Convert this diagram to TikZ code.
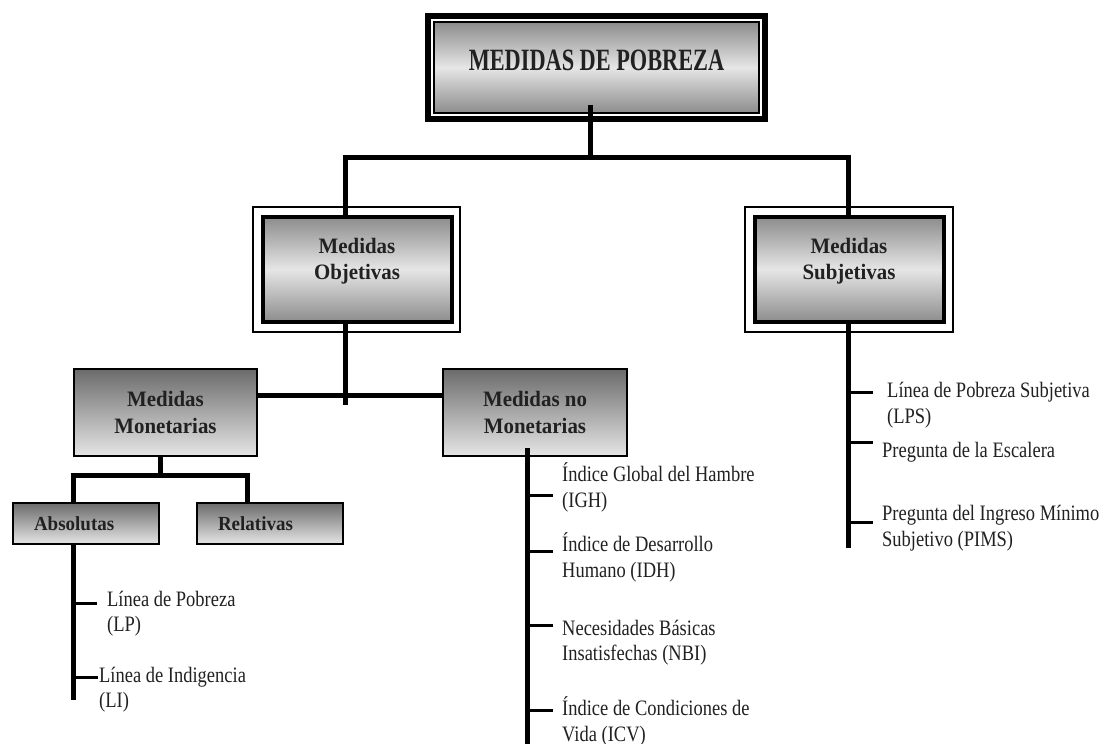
\documentclass[tikz,border=0pt]{standalone}
\usepackage{fontspec}
\setmainfont{Liberation Serif}
\newfontfamily\itemfont[FakeStretch=0.84]{Liberation Serif}
\newfontfamily\boxfont[FakeStretch=0.95]{Liberation Serif}
\newfontfamily\titlefont[FakeStretch=0.72]{Liberation Serif}
\usetikzlibrary{calc}
\definecolor{gdark}{gray}{0.42}
\definecolor{gmid}{gray}{0.55}
\definecolor{glight}{gray}{0.90}
\definecolor{txt}{gray}{0.13}
\tikzset{
  conn/.style={line width=5pt, black},
  tickline/.style={line width=3pt, black},
  titlebox/.style={draw, line width=1.5pt, top color=gmid, bottom color=gmid, middle color=glight,
    minimum width=325pt, minimum height=91pt, inner sep=0pt},
  mainbox/.style={draw, line width=4pt, top color=gmid, bottom color=gmid, middle color=glight,
    minimum width=189pt, minimum height=105pt, inner sep=0pt},
  subbox/.style={draw, line width=2pt, top color=gdark, bottom color=glight,
    inner sep=0pt, text=txt, align=center},
  boxtext/.style={text=txt, align=center, inner sep=0pt, font=\boxfont\bfseries\fontsize{22}{26}\selectfont},
  leaftext/.style={text=txt, align=left, anchor=west, inner sep=0pt, font=\itemfont\fontsize{22}{25.5}\selectfont}
}
\begin{document}
\begin{tikzpicture}[x=1pt,y=-1pt]
\useasboundingbox[fill=white] (0,0) rectangle (1108,744);

% boxes
\node[titlebox] (top) at (596.5,67.5) {};
\draw[line width=6pt] ([shift={(-5pt,5pt)}]top.north west) rectangle ([shift={(5pt,-5pt)}]top.south east);
\node[text=txt, inner sep=0pt, font=\titlefont\bfseries\fontsize{31}{36}\selectfont] (toptext) at (596.5,60.5) {MEDIDAS DE POBREZA};

\node[mainbox] (obj) at (357.5,269.5) {};
\draw[line width=1.5pt] ([shift={(-8pt,8pt)}]obj.north west) rectangle ([shift={(6pt,-8pt)}]obj.south east);
\node[boxtext] (objtext) at (357,261.5) {Medidas\\Objetivas};

\node[mainbox] (subj) at (849.5,269.5) {};
\draw[line width=1.5pt] ([shift={(-8pt,8pt)}]subj.north west) rectangle ([shift={(7pt,-8pt)}]subj.south east);
\node[boxtext] (subjtext) at (849,261.5) {Medidas\\Subjetivas};

\node[subbox, minimum width=183pt, minimum height=87pt, font=\boxfont\bfseries\fontsize{22}{27}\selectfont] (mon) at (165.5,412.5) {Medidas\\Monetarias};
\node[subbox, minimum width=184pt, minimum height=87pt, font=\boxfont\bfseries\fontsize{22}{27}\selectfont] (nomon) at (535,412.5) {Medidas no\\Monetarias};

\node[subbox, minimum width=146pt, minimum height=41pt, text width=104pt, inner xsep=21pt, align=left,
  font=\boxfont\bfseries\fontsize{20}{24}\selectfont] (abs) at (86,523.5) {Absolutas};
\node[subbox, minimum width=146pt, minimum height=41pt, text width=104pt, inner xsep=21pt, align=left,
  font=\boxfont\bfseries\fontsize{20}{24}\selectfont] (rel) at (270,523.5) {Relativas};

% leaf texts
\node[leaftext] (lp) at (107,613.5) {Línea de Pobreza\\(LP)};
\node[leaftext] (li) at (99,689.5) {Línea de Indigencia\\(LI)};
\node[leaftext] (igh) at (562,487.5) {Índice Global del Hambre\\(IGH)};
\node[leaftext] (idh) at (562,557.5) {Índice de Desarrollo\\Humano (IDH)};
\node[leaftext] (nbi) at (562,642.5) {Necesidades Básicas\\Insatisfechas (NBI)};
\node[leaftext] (icv) at (562,721.5) {Índice de Condiciones de\\Vida (ICV)};
\node[leaftext] (lps) at (887,405) {Línea de Pobreza Subjetiva\\(LPS)};
\node[leaftext] (esc) at (882,452) {Pregunta de la Escalera};
\node[leaftext] (pims) at (882,528) {Pregunta del Ingreso Mínimo\\Subjetivo (PIMS)};

% connectors
\coordinate (s0) at (590,105);
\coordinate (j1) at (590,157);
\draw[conn] (s0) -- (j1);
\draw[conn] ([xshift=-12.5pt]obj.north) |- (j1) -| ([xshift=-1.5pt]subj.north);

\coordinate (j2) at (345,405);
\draw[conn] ([xshift=-12.5pt]obj.south) -- (j2);
\draw[conn] ([yshift=17.5pt]mon.east) -- ([yshift=17.5pt]nomon.west);

\coordinate (j3) at (160,475);
\draw[conn] ([xshift=-5.5pt]mon.south) -- (j3);
\draw[conn] ([xshift=-13pt]abs.north) |- (j3) -| ([xshift=-23pt]rel.north);

% left list
\coordinate (e1) at (73,700);
\draw[conn] ([xshift=-13pt]abs.south) -- (e1);
\coordinate (t1) at (73,603);
\coordinate (t2) at (73,677);
\draw[tickline, shorten >=10pt] (t1) -- (t1 -| lp.west);
\draw[tickline, shorten >=1pt] (t2) -- (t2 -| li.west);

% middle list
\coordinate (e2) at (527,746);
\draw[conn] ([xshift=-8pt,yshift=9pt]nomon.south) -- (e2);
\coordinate (t3) at (527,495);
\coordinate (t4) at (527,551);
\coordinate (t5) at (527,625);
\coordinate (t6) at (527,710);
\draw[tickline, shorten >=9pt] (t3) -- (t3 -| igh.west);
\draw[tickline, shorten >=9pt] (t4) -- (t4 -| idh.west);
\draw[tickline, shorten >=9pt] (t5) -- (t5 -| nbi.west);
\draw[tickline, shorten >=9pt] (t6) -- (t6 -| icv.west);

% right list
\coordinate (e3) at (848,548);
\draw[conn] ([xshift=-1.5pt]subj.south) -- (e3);
\coordinate (t7) at (848,392);
\coordinate (t8) at (848,442);
\coordinate (t9) at (848,522);
\draw[tickline, shorten >=14pt] (t7) -- (t7 -| lps.west);
\draw[tickline, shorten >=9pt] (t8) -- (t8 -| esc.west);
\draw[tickline, shorten >=9pt] (t9) -- (t9 -| pims.west);
\end{tikzpicture}
\end{document}
